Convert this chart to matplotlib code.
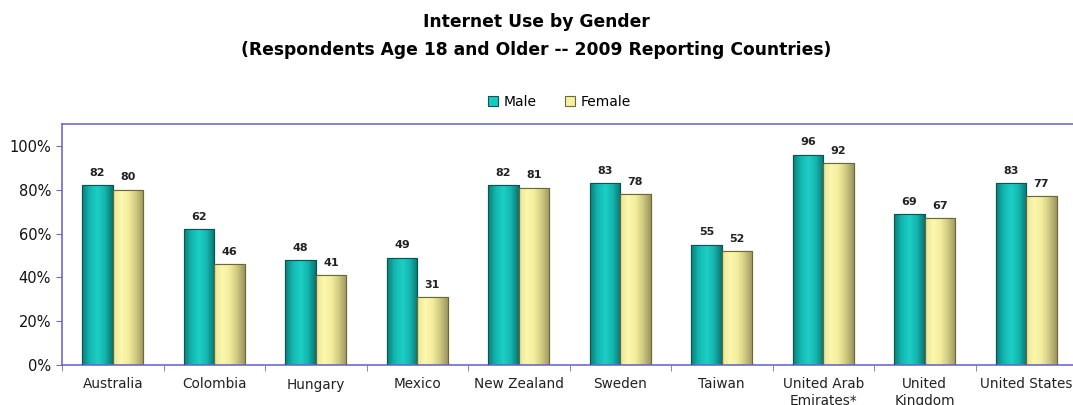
import matplotlib
matplotlib.use("Agg")
import matplotlib.pyplot as plt
import numpy as np
from matplotlib.colors import LinearSegmentedColormap

countries = ["Australia", "Colombia", "Hungary", "Mexico", "New Zealand", "Sweden",
             "Taiwan", "United Arab\nEmirates*", "United\nKingdom", "United States"]
male = [82, 62, 48, 49, 82, 83, 55, 96, 69, 83]
female = [80, 46, 41, 31, 81, 78, 52, 92, 67, 77]

male_cmap = LinearSegmentedColormap.from_list(
    "male", ["#0b7f7b", "#13b8b0", "#1ccfc6", "#14b5ad", "#0a7470"])
female_cmap = LinearSegmentedColormap.from_list(
    "female", ["#e8e49a", "#fbf7ac", "#f3ee9f", "#cfc880", "#9c9660"])
spine_col = "#6b6bd0"

plt.rcParams['font.family'] = ['DejaVu Sans']

fig = plt.figure(figsize=(10.73, 4.05), dpi=100)
ax = fig.add_axes([62 / 1073, 40 / 405, 1015 / 1073, 241 / 405])

x = np.arange(len(countries))
w = 0.3
grad = np.linspace(0, 1, 64).reshape(1, -1)


def gradient_bars(xs, vals, cmap, edge, label):
    bars = ax.bar(xs, vals, w, color=cmap(0.45), edgecolor=edge, linewidth=0.8,
                  label=label, zorder=2)
    for b in bars:
        x0, y0 = b.get_x(), b.get_y()
        im = ax.imshow(grad, cmap=cmap, aspect="auto", zorder=2.5,
                       extent=[x0, x0 + b.get_width(), y0, y0 + b.get_height()])
        im.set_clip_path(b)
    # outline on top of the gradient
    ax.bar(xs, vals, w, fill=False, edgecolor=edge, linewidth=0.8, zorder=3)
    for xi, v in zip(xs, vals):
        ax.text(xi, v + 3.3, str(v), ha="center", va="bottom", fontsize=8,
                fontweight="bold", color="#222222")
    return bars


gradient_bars(x - w / 2, male, male_cmap, "#0a5552", "Male")
gradient_bars(x + w / 2, female, female_cmap, "#6d6838", "Female")

ax.set_xlim(-0.5, len(countries) - 0.5)
ax.set_ylim(0, 110)
ax.set_yticks(np.arange(0, 101, 20))
ax.set_yticklabels([f"{v}%" for v in range(0, 101, 20)], fontsize=10.5, color="#111111")
ax.set_xticks(x)
ax.set_xticklabels(countries, fontsize=9.8, color="#222222", va="top")
ax.tick_params(axis="x", length=0, pad=9)
ax.set_xticks(np.arange(-0.5, len(countries), 1), minor=True)
ax.tick_params(axis="x", which="minor", length=4, color=spine_col, direction="out")
ax.tick_params(axis="y", length=4, color=spine_col, direction="out", pad=4)

for s in ax.spines.values():
    s.set_color(spine_col)
    s.set_linewidth(1.2)

leg = ax.legend(loc="lower center", bbox_to_anchor=(0.49, 1.01), ncol=2, frameon=False,
                fontsize=10, handlelength=0.75, handleheight=0.75, columnspacing=2.0,
                handletextpad=0.4)

fig.text(0.5, 1 - 22 / 405, "Internet Use by Gender", ha="center", va="center",
         fontsize=12.3, fontweight="bold")
fig.text(0.5, 1 - 50 / 405, "(Respondents Age 18 and Older -- 2009 Reporting Countries)",
         ha="center", va="center", fontsize=12.3, fontweight="bold")

fig.savefig("out.png", dpi=100)
